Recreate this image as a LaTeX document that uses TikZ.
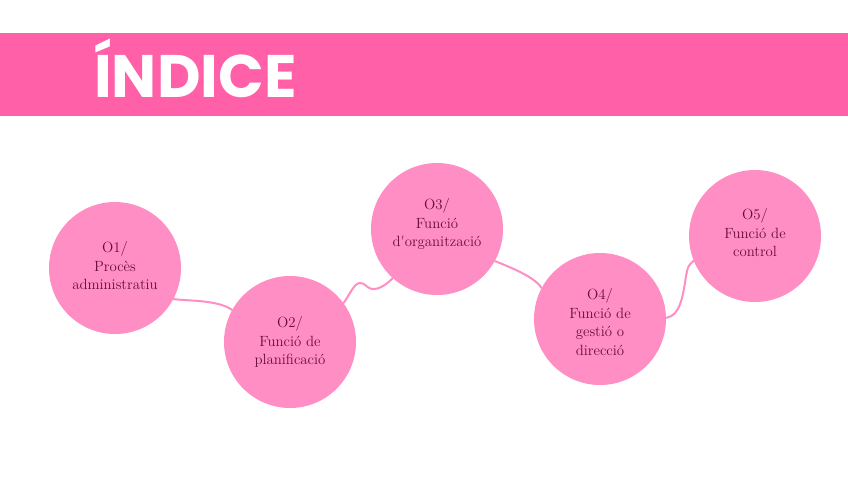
\documentclass[tikz,border=0pt]{standalone}
\usepackage{fontspec}
\usetikzlibrary{backgrounds}
\newfontfamily\titlefont{Poppins}[UprightFont=* Bold]
\definecolor{bannerpink}{RGB}{255,96,168}
\definecolor{circpink}{RGB}{255,142,196}
\definecolor{maroon}{RGB}{105,12,58}
\begin{document}
\begin{tikzpicture}[x=1pt,y=-1pt,
  circlebox/.style={circle, fill=circpink, minimum size=132pt, inner sep=0pt},
  circtext/.style={align=center, text=maroon, inner sep=0pt,
    font=\fontsize{14.8}{18.5}\selectfont},
  link/.style={draw=circpink, line width=2pt, line cap=round}]
\useasboundingbox (0,0) rectangle (848,477);
% circles
\node (c1) [circlebox] at (115,268) {};
\node (c2) [circlebox] at (290,342) {};
\node (c3) [circlebox] at (437,229) {};
\node (c4) [circlebox] at (600,319) {};
\node (c5) [circlebox] at (755,236) {};
% texts
\node (t1) [circtext] at (115,266) {O1/\\Procès\\administratiu};
\node (t2) [circtext] at (290,342) {O2/\\Funció de\\planificació};
\node (t3) [circtext] at (437,224) {O3/\\Funció\\d\textquotesingle organització};
\node (t4) [circtext] at (600,322) {O4/\\Funció de\\gestió o\\direcció};
\node (t5) [circtext] at (755,233) {O5/\\Funció de\\control};
\begin{scope}[on background layer]
\fill[white] (0,0) rectangle (848,477);
\fill[bannerpink] (0,33) rectangle (848,116);
% links
\path[link] (c1.-28) .. controls +(16,2) and +(-14,-10) .. (c2.151);
\path[link] (c2.36) .. controls +(6,-8) and +(-6,0) .. (360,283)
  .. controls +(6,0) and +(-6,-1) .. (372,289)
  .. controls +(8,1) and +(-4,4) .. (c3.228);
\path[link] (c3.-29) .. controls +(18,7) and +(-6,-10) .. (c4.152);
\path[link] (c4.1) .. controls +(14,-2) and +(-3,20) .. (686,276)
  .. controls +(2,-10) .. (c5.202);
\end{scope}
\node (title) [anchor=base west, inner sep=0pt, text=white,
  font=\titlefont\fontsize{60}{60}\selectfont] at (94,97) {ÍNDICE};
\end{tikzpicture}
\end{document}
